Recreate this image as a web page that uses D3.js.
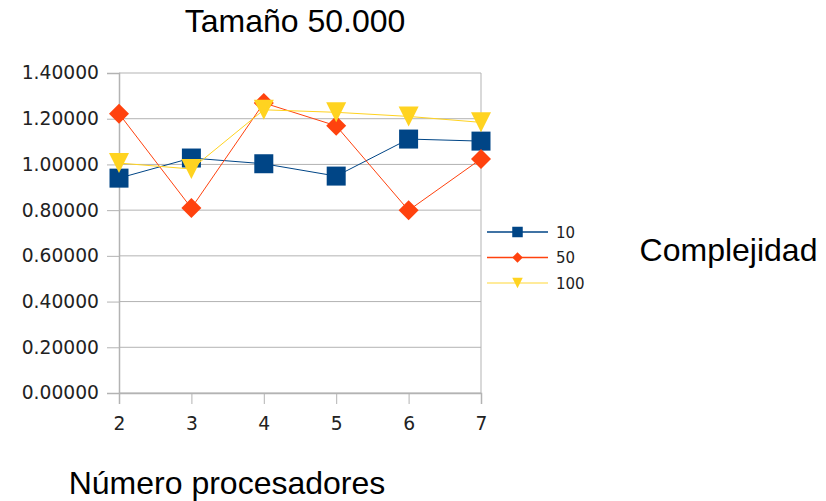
<!DOCTYPE html>
<html>
<head>
<meta charset="utf-8">
<script src="https://cdn.jsdelivr.net/npm/d3@7"></script>
<style>
  html, body { margin: 0; padding: 0; background: #fff; }
  svg { display: block; }
</style>
</head>
<body>
<svg id="chart" width="826" height="501"></svg>
<script>
// Number of processors on the x axis
const processors = [2, 3, 4, 5, 6, 7];
// Series: complexity 10, 50, 100 (problem size 50.000)
const seriesNames = ["10", "50", "100"];
const values10  = [0.940, 1.028, 1.003, 0.949, 1.111, 1.102];
const values50  = [1.222, 0.809, 1.269, 1.169, 0.799, 1.024];
const values100 = [1.006, 0.980, 1.239, 1.228, 1.210, 1.184];
const yTicks = [0, 0.2, 0.4, 0.6, 0.8, 1.0, 1.2, 1.4];

const colors = ["#004586", "#ff420e", "#ffd320"];
const shapes = ["square", "diamond", "triangleDown"];

const svg = d3.select("#chart");
const plotLeft = 119, plotRight = 481, plotTop = 73, plotBottom = 393;

const x = d3.scaleLinear().domain([2, 7]).range([plotLeft, plotRight]);
const y = d3.scaleLinear().domain([0, 1.4]).range([plotBottom, plotTop]);

const gridColor = "#b3b3b3";
const numFont = "'DejaVu Sans', sans-serif";
const titleFont = "'Liberation Sans', Arial, sans-serif";

// Horizontal grid lines
svg.append("g")
  .selectAll("line").data(yTicks).join("line")
  .attr("x1", plotLeft).attr("x2", plotRight)
  .attr("y1", d => y(d)).attr("y2", d => y(d))
  .attr("stroke", gridColor).attr("stroke-width", 1);

// Right frame edge
svg.append("line")
  .attr("x1", plotRight).attr("x2", plotRight).attr("y1", plotTop).attr("y2", plotBottom)
  .attr("stroke", gridColor);

// Y axis
const yAxis = d3.axisLeft(y).tickValues(yTicks).tickSize(12).tickPadding(8)
  .tickFormat(d3.format(".5f"));
const gy = svg.append("g").attr("transform", `translate(${plotLeft},0)`).call(yAxis);
gy.select(".domain").attr("stroke", gridColor).attr("stroke-width", 1.5);
gy.selectAll(".tick line").attr("stroke", gridColor);
gy.selectAll("text").attr("font-family", numFont).attr("font-size", 18.7)
  .attr("fill", "#222");

// X axis
const xAxis = d3.axisBottom(x).tickValues(processors).tickSize(11).tickPadding(13)
  .tickFormat(d3.format("d"));
const gx = svg.append("g").attr("transform", `translate(0,${plotBottom})`).call(xAxis);
gx.select(".domain").attr("stroke", gridColor).attr("stroke-width", 1.5);
gx.selectAll(".tick line").attr("stroke", gridColor);
gx.selectAll("text").attr("font-family", numFont).attr("font-size", 18.7).attr("fill", "#222");

// Marker path builder
function markerPath(shape, size) {
  const s = size / 2;
  if (shape === "triangleDown") return `M${-s},${-s}L${s},${-s}L0,${s}Z`;
  if (shape === "square") return `M${-s},${-s}H${s}V${s}H${-s}Z`;
  return `M0,${-s}L${s},0L0,${s}L${-s},0Z`;
}

const seriesData = [values10, values50, values100];
const line = d3.line().x((d, i) => x(processors[i])).y(d => y(d));
const markerSizes = [19, 20, 20];

seriesData.forEach((vals, k) => {
  const g = svg.append("g");
  g.append("path").datum(vals).attr("d", line)
    .attr("fill", "none").attr("stroke", colors[k]).attr("stroke-width", 1);
  g.selectAll("path.m").data(vals).join("path").attr("class", "m")
    .attr("transform", (d, i) => `translate(${x(processors[i])},${y(d)})`)
    .attr("d", markerPath(shapes[k], markerSizes[k]))
    .attr("fill", colors[k]);
});

// Legend
const legendY = [232, 257.5, 283];
const lg = svg.append("g");
seriesNames.forEach((name, k) => {
  lg.append("line").attr("x1", 487).attr("x2", 548)
    .attr("y1", legendY[k]).attr("y2", legendY[k])
    .attr("stroke", colors[k]).attr("stroke-width", 1.5)
    .attr("opacity", k === 2 ? 0.6 : 1);
  lg.append("path").attr("transform", `translate(517.5,${legendY[k]})`)
    .attr("d", markerPath(shapes[k], 10.5)).attr("fill", colors[k]);
  lg.append("text").attr("x", 556).attr("y", legendY[k] + 5.5)
    .attr("font-family", numFont).attr("font-size", 15).attr("fill", "#222")
    .text(name);
});

// Titles
svg.append("text").attr("x", 295).attr("y", 32).attr("text-anchor", "middle")
  .attr("font-family", titleFont).attr("font-size", 32).attr("fill", "#000")
  .text("Tamaño 50.000");
svg.append("text").attr("x", 728.5).attr("y", 261).attr("text-anchor", "middle")
  .attr("font-family", titleFont).attr("font-size", 32).attr("fill", "#000")
  .text("Complejidad");
svg.append("text").attr("x", 227).attr("y", 494).attr("text-anchor", "middle")
  .attr("font-family", titleFont).attr("font-size", 32).attr("fill", "#000")
  .text("Número procesadores");
</script>
</body>
</html>
